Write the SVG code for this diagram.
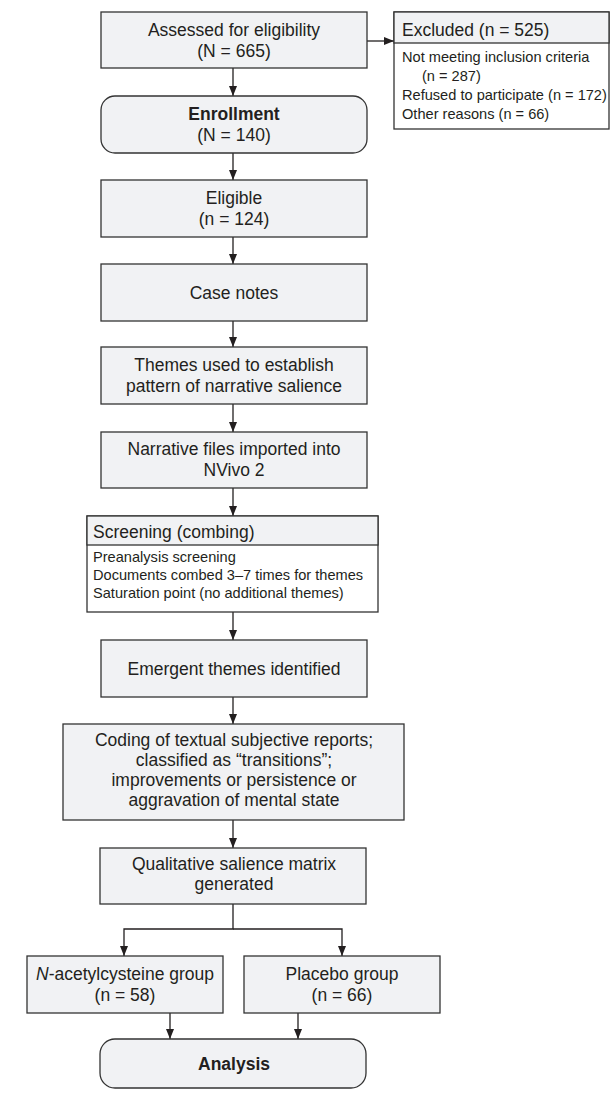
<svg xmlns="http://www.w3.org/2000/svg" width="610" height="1098" viewBox="0 0 610 1098">
<style>
.b{fill:#f1f2f4;stroke:#333;stroke-width:1.3}
.w{fill:#fff;stroke:#333;stroke-width:1.3}
.t{font-family:"Liberation Sans",Arial,sans-serif;font-size:17.5px;fill:#231f20;text-anchor:middle}
.h{font-family:"Liberation Sans",Arial,sans-serif;font-size:17.5px;fill:#231f20}
.l{font-family:"Liberation Sans",Arial,sans-serif;font-size:14.6px;fill:#231f20}
.bold{font-weight:bold}
.c{stroke:#231f20;stroke-width:1.3;fill:none}
</style>
<defs>
<marker id="ah" viewBox="0 0 10 8" refX="10" refY="4" markerWidth="10" markerHeight="8" markerUnits="userSpaceOnUse" orient="auto">
<path d="M0,0 L10,4 L0,8 z" fill="#231f20"/>
</marker>
</defs>
<g id="connectors">
<line class="c" x1="233" y1="68" x2="233" y2="96" marker-end="url(#ah)"/>
<line class="c" x1="367" y1="41" x2="394" y2="41" marker-end="url(#ah)"/>
<line class="c" x1="233" y1="153" x2="233" y2="180" marker-end="url(#ah)"/>
<line class="c" x1="233" y1="237" x2="233" y2="264" marker-end="url(#ah)"/>
<line class="c" x1="233" y1="321" x2="233" y2="347" marker-end="url(#ah)"/>
<line class="c" x1="233" y1="404" x2="233" y2="432" marker-end="url(#ah)"/>
<line class="c" x1="233" y1="488" x2="233" y2="516" marker-end="url(#ah)"/>
<line class="c" x1="233" y1="612" x2="233" y2="640" marker-end="url(#ah)"/>
<line class="c" x1="233" y1="697" x2="233" y2="724" marker-end="url(#ah)"/>
<line class="c" x1="233" y1="820" x2="233" y2="848" marker-end="url(#ah)"/>
<polyline class="c" points="233,904 233,929 124,929 124,956" marker-end="url(#ah)"/>
<polyline class="c" points="233,929 342,929 342,956" marker-end="url(#ah)"/>
<line class="c" x1="170" y1="1013" x2="170" y2="1039" marker-end="url(#ah)"/>
<line class="c" x1="298" y1="1013" x2="298" y2="1039" marker-end="url(#ah)"/>
</g>
<g id="assessed">
<rect class="b" x="101" y="12" width="266" height="56"/>
<text class="t" x="234" y="36">Assessed for eligibility</text>
<text class="t" x="234" y="57">(N = 665)</text>
</g>
<g id="excluded">
<rect class="w" x="394" y="12" width="215" height="117"/>
<rect class="b" x="394" y="12" width="215" height="31"/>
<text class="h" x="402" y="36">Excluded (n = 525)</text>
<text class="l" x="402" y="62">Not meeting inclusion criteria</text>
<text class="l" x="422" y="81">(n = 287)</text>
<text class="l" x="402" y="100">Refused to participate (n = 172)</text>
<text class="l" x="402" y="119">Other reasons (n = 66)</text>
</g>
<g id="enrollment">
<rect class="b" x="101" y="96" width="266" height="57" rx="14"/>
<text class="t bold" x="234" y="120">Enrollment</text>
<text class="t" x="234" y="141">(N = 140)</text>
</g>
<g id="eligible">
<rect class="b" x="101" y="180" width="266" height="57"/>
<text class="t" x="234" y="204">Eligible</text>
<text class="t" x="234" y="225">(n = 124)</text>
</g>
<g id="casenotes">
<rect class="b" x="101" y="264" width="266" height="57"/>
<text class="t" x="234" y="299">Case notes</text>
</g>
<g id="themes">
<rect class="b" x="101" y="347" width="266" height="57"/>
<text class="t" x="234" y="371">Themes used to establish</text>
<text class="t" x="234" y="392">pattern of narrative salience</text>
</g>
<g id="narrative">
<rect class="b" x="101" y="432" width="266" height="56"/>
<text class="t" x="234" y="455">Narrative files imported into</text>
<text class="t" x="234" y="476">NVivo 2</text>
</g>
<g id="screening">
<rect class="w" x="87" y="516" width="291" height="96"/>
<rect class="b" x="87" y="516" width="291" height="29"/>
<text class="h" x="93" y="538">Screening (combing)</text>
<text class="l" x="93" y="562">Preanalysis screening</text>
<text class="l" x="93" y="580">Documents combed 3–7 times for themes</text>
<text class="l" x="93" y="598">Saturation point (no additional themes)</text>
</g>
<g id="emergent">
<rect class="b" x="101" y="640" width="266" height="57"/>
<text class="t" x="234" y="675">Emergent themes identified</text>
</g>
<g id="coding">
<rect class="b" x="63" y="724" width="341" height="96"/>
<text class="t" x="234" y="746">Coding of textual subjective reports;</text>
<text class="t" x="234" y="766">classified as “transitions”;</text>
<text class="t" x="234" y="786">improvements or persistence or</text>
<text class="t" x="234" y="806">aggravation of mental state</text>
</g>
<g id="matrix">
<rect class="b" x="100" y="848" width="266" height="56"/>
<text class="t" x="234" y="870">Qualitative salience matrix</text>
<text class="t" x="234" y="890">generated</text>
</g>
<g id="nac">
<rect class="b" x="27" y="956" width="196" height="57"/>
<text class="t" x="125" y="980"><tspan font-style="italic">N</tspan>-acetylcysteine group</text>
<text class="t" x="125" y="1001">(n = 58)</text>
</g>
<g id="placebo">
<rect class="b" x="244" y="956" width="196" height="57"/>
<text class="t" x="342" y="980">Placebo group</text>
<text class="t" x="342" y="1001">(n = 66)</text>
</g>
<g id="analysis">
<rect class="b" x="100" y="1039" width="266" height="49" rx="15"/>
<text class="t bold" x="234" y="1070">Analysis</text>
</g>
</svg>
